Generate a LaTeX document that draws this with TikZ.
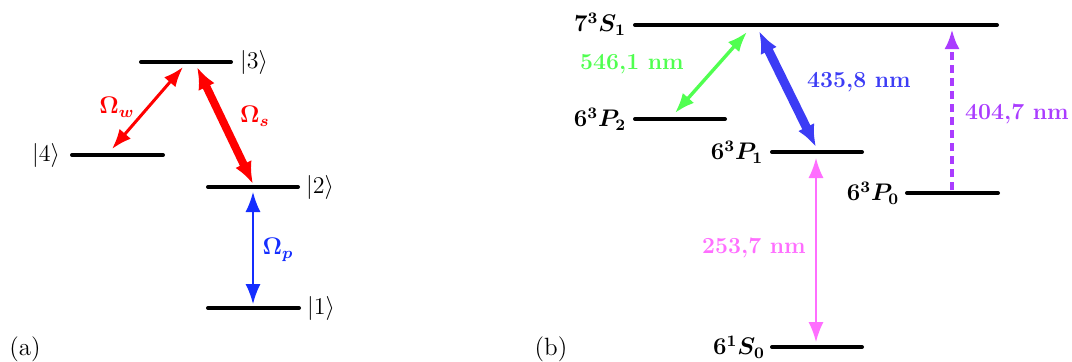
\documentclass[tikz,border=0pt]{standalone}
\usepackage{amsmath}
\usepackage{tikz}
\usetikzlibrary{arrows.meta}
\definecolor{wred}{RGB}{255,0,0}
\definecolor{pblue}{RGB}{20,45,255}
\definecolor{hggreen}{RGB}{80,255,80}
\definecolor{hgblue}{RGB}{60,60,245}
\definecolor{hgpink}{RGB}{255,110,255}
\definecolor{hgviolet}{RGB}{170,60,255}

\begin{document}
\begin{tikzpicture}[x=0.5pt,y=-0.5pt,
  level/.style={line width=2pt,line cap=round},
  trans/.style={{Latex[length=10pt,width=7.5pt]}-{Latex[length=10pt,width=7.5pt]}},
  bigtrans/.style={{Latex[length=11pt,width=9pt]}-{Latex[length=11pt,width=9pt]}},
  lbl/.style={inner sep=0pt,font=\fontsize{11.5}{14}\selectfont\bfseries\boldmath},
  ket/.style={inner sep=0pt,font=\fontsize{12.5}{15}\selectfont}]
\useasboundingbox (0,0) rectangle (1072,361);
\begin{scope}
  \foreach \n/\xa/\xb/\y in {k3/141/231/62, k4/72/163/155, k2/208/298/187, k1/208/299/308} {
    \draw[level] (\xa,\y) coordinate (\n a) -- (\xb,\y) coordinate (\n b);
  }
  \node[ket] (t3) at (254,62) {$|3\rangle$};
  \node[ket] (t4) at (46,155) {$|4\rangle$};
  \node[ket] (t2) at (320,187) {$|2\rangle$};
  \node[ket] (t1) at (321,308) {$|1\rangle$};
  \coordinate (w3) at (183,67); \coordinate (w4) at (112,149);
  \coordinate (s3) at (197,67); \coordinate (s2) at (253,184);
  \coordinate (p2) at (253,192); \coordinate (p1) at (253,304);
  \draw[trans,wred,line width=1.5pt] (w3) -- (w4);
  \draw[bigtrans,wred,line width=4pt] (s3) -- (s2);
  \draw[trans,pblue,line width=0.75pt] (p2) -- (p1);
  \node[lbl,wred] (ow) at (117,107) {$\Omega_w$};
  \node[lbl,wred] (os) at (255,116) {$\Omega_s$};
  \node[lbl,pblue] (op) at (278,250) {$\Omega_p$};
  \node[ket] (pa) at (25,349) {(a)};
\end{scope}
\begin{scope}
  \foreach \n/\xa/\xb/\y in {s71/635/997/25, p62/635/725/119, p61/772/862/152, p60/907/998/193, s60/772/862/347} {
    \draw[level] (\xa,\y) coordinate (\n a) -- (\xb,\y) coordinate (\n b);
  }
  \node[lbl] (ts71) at (600,24) {$7^3S_1$};
  \node[lbl] (tp62) at (600,119) {$6^3P_2$};
  \node[lbl] (tp61) at (737,152) {$6^3P_1$};
  \node[lbl] (tp60) at (873,193) {$6^3P_0$};
  \node[lbl] (ts60) at (739,347) {$6^1S_0$};
  \coordinate (g7) at (747,32); \coordinate (g2) at (675,113);
  \coordinate (b7) at (759,31); \coordinate (b1) at (816,147);
  \coordinate (u1) at (816,158); \coordinate (u0) at (816,342);
  \coordinate (v0) at (952,190); \coordinate (v7) at (952,29);
  \draw[trans,hggreen,line width=1.7pt] (g7) -- (g2);
  \draw[bigtrans,hgblue,line width=4.5pt] (b7) -- (b1);
  \draw[trans,hgpink,line width=0.75pt] (u1) -- (u0);
  \draw[-{Latex[length=10pt,width=7.5pt]},hgviolet,line width=2pt,dash pattern=on 4pt off 2.5pt] (v0) -- (v7);
  \node[lbl,hggreen] (lg) at (632,64) {546,1 nm};
  \node[lbl,hgblue] (lb) at (859,82) {435,8 nm};
  \node[lbl,hgpink] (lu) at (754,248) {253,7 nm};
  \node[lbl,hgviolet] (lv) at (1017,114) {404,7 nm};
  \node[ket] (pb) at (551,349) {(b)};
\end{scope}
\end{tikzpicture}
\end{document}
